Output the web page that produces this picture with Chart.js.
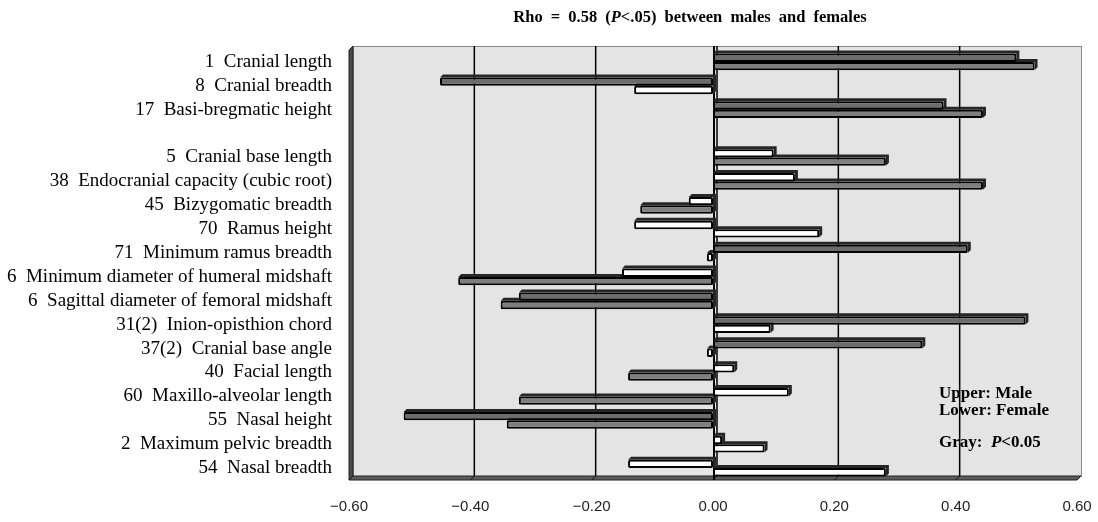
<!DOCTYPE html>
<html>
<head>
<meta charset="utf-8">
<script src="https://cdn.jsdelivr.net/npm/chart.js@4.4.0/dist/chart.umd.min.js"></script>
<style>
  body { margin: 0; background: #fff; }
  #wrap { width: 1098px; height: 522px; }
</style>
</head>
<body>
<div id="wrap"><canvas id="grafik" width="1098" height="522"></canvas></div>
<script>
// rows from top to bottom, '' is the blank spacer row
const categories = [
    '1  Cranial length',
    '8  Cranial breadth',
    '17  Basi-bregmatic height',
    '',
    '5  Cranial base length',
    '38  Endocranial capacity (cubic root)',
    '45  Bizygomatic breadth',
    '70  Ramus height',
    '71  Minimum ramus breadth',
    '6  Minimum diameter of humeral midshaft',
    '6  Sagittal diameter of femoral midshaft',
    '31(2)  Inion-opisthion chord',
    '37(2)  Cranial base angle',
    '40  Facial length',
    '60  Maxillo-alveolar length',
    '55  Nasal height',
    '2  Maximum pelvic breadth',
    '54  Nasal breadth'
];

const maleRho = [0.50, -0.45, 0.38, null, 0.10, 0.135, -0.04, -0.13, 0.42, -0.15, -0.32, 0.515, 0.345, 0.035, 0.125, -0.51, 0.015, -0.14];
const femaleRho = [0.53, -0.13, 0.445, null, 0.285, 0.445, -0.12, 0.175, -0.01, -0.42, -0.35, 0.095, -0.01, -0.14, -0.32, -0.34, 0.085, 0.285];

// 1 = P<0.05 (gray bar)
const maleSig = [1, 1, 1, 0, 0, 0, 0, 0, 1, 0, 1, 1, 1, 0, 0, 1, 0, 0];
const femaleSig = [1, 0, 1, 0, 1, 1, 1, 0, 0, 1, 1, 0, 0, 1, 1, 1, 0, 0];

const xTicks = [-0.6, -0.4, -0.2, 0, 0.2, 0.4, 0.6];

const serif = '"Liberation Serif", "Times New Roman", serif';
const DEPTH = 4;

// back wall, side wall, floor and the gridlines on the back wall
const wallPlugin = {
    id: 'wall',
    beforeDatasetsDraw(chart) {
        const { ctx, chartArea: a, scales: { x } } = chart;
        ctx.save();
        ctx.fillStyle = '#e4e4e4';
        ctx.fillRect(a.left + DEPTH, a.top - DEPTH, a.right - a.left, a.bottom - a.top);
        ctx.strokeStyle = '#8a8a8a';
        ctx.lineWidth = 1;
        ctx.strokeRect(a.left + DEPTH + 0.5, a.top - DEPTH + 0.5, a.right - a.left, a.bottom - a.top);

        ctx.strokeStyle = '#000';
        ctx.lineWidth = 1.5;
        xTicks.forEach(v => {
            if (v === xTicks[0] || v === xTicks[xTicks.length - 1]) return;
            const px = x.getPixelForValue(v) + DEPTH;
            ctx.beginPath();
            ctx.moveTo(px, a.top - DEPTH);
            ctx.lineTo(px, a.bottom - DEPTH);
            ctx.stroke();
        });

        // left wall
        ctx.fillStyle = '#4a4a4a';
        ctx.beginPath();
        ctx.moveTo(a.left, a.top);
        ctx.lineTo(a.left + DEPTH, a.top - DEPTH);
        ctx.lineTo(a.left + DEPTH, a.bottom - DEPTH);
        ctx.lineTo(a.left, a.bottom);
        ctx.closePath();
        ctx.fill();
        ctx.strokeStyle = '#222';
        ctx.lineWidth = 1;
        ctx.stroke();

        // floor
        ctx.fillStyle = '#5c5c5c';
        ctx.beginPath();
        ctx.moveTo(a.left, a.bottom);
        ctx.lineTo(a.left + DEPTH, a.bottom - DEPTH);
        ctx.lineTo(a.right + DEPTH, a.bottom - DEPTH);
        ctx.lineTo(a.right, a.bottom);
        ctx.closePath();
        ctx.fill();
        ctx.stroke();
        ctx.strokeStyle = '#111';
        xTicks.forEach(v => {
            const px = x.getPixelForValue(v);
            ctx.beginPath();
            ctx.moveTo(px, a.bottom);
            ctx.lineTo(px + DEPTH, a.bottom - DEPTH);
            ctx.stroke();
        });

        // zero line in front of the wall
        const zx = x.getPixelForValue(0);
        ctx.strokeStyle = '#000';
        ctx.lineWidth = 2;
        ctx.beginPath();
        ctx.moveTo(zx + 1, a.top - DEPTH);
        ctx.lineTo(zx + 1, a.bottom);
        ctx.stroke();

        // depth faces of the bars
        chart.data.datasets.forEach((ds, i) => {
            chart.getDatasetMeta(i).data.forEach((bar, j) => {
                if (ds.data[j] === null) return;
                const l = Math.min(bar.x, bar.base), r = Math.max(bar.x, bar.base);
                const t = bar.y - bar.height / 2, b = bar.y + bar.height / 2;
                ctx.fillStyle = '#262626';
                ctx.beginPath();
                ctx.moveTo(l, t);
                ctx.lineTo(l + 3, t - 3);
                ctx.lineTo(r + 3, t - 3);
                ctx.lineTo(r + 3, b - 3);
                ctx.lineTo(r, b);
                ctx.lineTo(r, t);
                ctx.closePath();
                ctx.fill();
            });
        });
        ctx.restore();
    },
    afterDraw(chart) {
        const { ctx } = chart;
        ctx.save();
        ctx.fillStyle = '#000';
        ctx.textBaseline = 'middle';

        // title with italic P
        const parts = [
            ['Rho = 0.58 (', 'bold 16.5px ' + serif],
            ['P', 'italic bold 16.5px ' + serif],
            ['<.05) between males and females', 'bold 16.5px ' + serif]
        ];
        ctx.wordSpacing = '4px';
        let total = 0;
        parts.forEach(p => { ctx.font = p[1]; total += ctx.measureText(p[0]).width; });
        let cx = 690 - total / 2;
        ctx.textAlign = 'left';
        parts.forEach(p => { ctx.font = p[1]; ctx.fillText(p[0], cx, 18); cx += ctx.measureText(p[0]).width; });
        ctx.wordSpacing = '0px';

        // note in the plot
        ctx.font = 'bold 17px ' + serif;
        ctx.fillText('Upper: Male', 939, 394);
        ctx.fillText('Lower: Female', 939, 411);
        let gx = 939;
        ctx.fillText('Gray:  ', gx, 443);
        gx += ctx.measureText('Gray:  ').width;
        ctx.font = 'italic bold 17px ' + serif;
        ctx.fillText('P', gx, 443);
        gx += ctx.measureText('P').width;
        ctx.font = 'bold 17px ' + serif;
        ctx.fillText('<0.05', gx, 443);
        ctx.restore();
    }
};

const data = {
    labels: categories,
    datasets: [{
        label: 'Male',
        data: maleRho,
        backgroundColor: maleSig.map(s => s ? '#6c6c6c' : '#ffffff'),
        borderColor: '#000',
        borderWidth: 2,
        borderRadius: 1.5,
        borderSkipped: false
    }, {
        label: 'Female',
        data: femaleRho,
        backgroundColor: femaleSig.map(s => s ? '#7e7e7e' : '#ffffff'),
        borderColor: '#000',
        borderWidth: 2,
        borderRadius: 1.5,
        borderSkipped: false
    }]
};

const options = {
    indexAxis: 'y',
    responsive: false,
    animation: false,
    layout: { padding: { top: 50, right: 21, bottom: 0, left: 0 } },
    plugins: {
        legend: { display: false },
        title: { display: false },
        tooltip: { enabled: false }
    },
    datasets: {
        bar: { categoryPercentage: 0.7, barPercentage: 1.0 }
    },
    scales: {
        x: {
            min: -0.6,
            max: 0.6,
            grid: { display: false },
            border: { display: false },
            afterBuildTicks(scale) { scale.ticks = xTicks.map(v => ({ value: v })); },
            afterFit(scale) {
                scale.height = 42;
                scale.paddingLeft = 0;
                scale.paddingRight = 0;
            },
            ticks: {
                padding: 10,
                color: '#222',
                font: { family: '"Liberation Sans", Arial, sans-serif', size: 15 },
                callback: v => (v < 0 ? '\u2212' : '') + Math.abs(v).toFixed(2)
            }
        },
        y: {
            grid: { display: false, drawTicks: false },
            border: { display: false },
            afterFit(scale) { scale.width = 349; },
            ticks: {
                autoSkip: false,
                padding: 17,
                color: '#000',
                font: { family: serif, size: 19 }
            }
        }
    }
};

const chart = new Chart(document.getElementById('grafik'), {
    type: 'bar',
    data: data,
    options: options,
    plugins: [wallPlugin]
});
</script>
</body>
</html>
